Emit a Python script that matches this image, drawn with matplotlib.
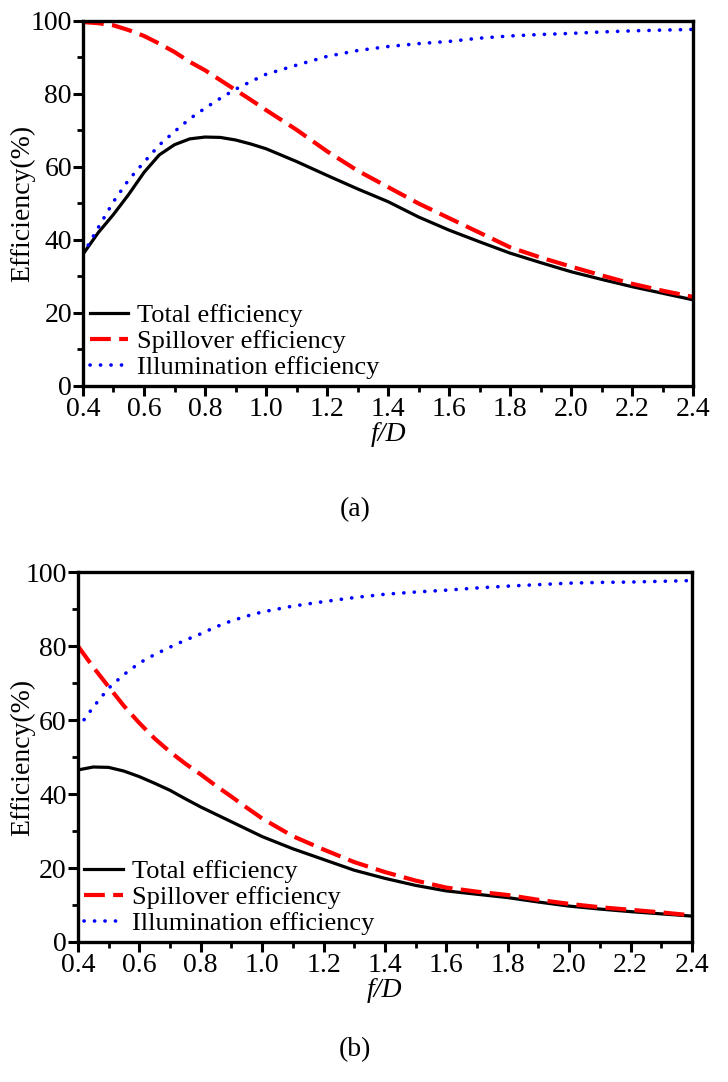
import numpy as np
import matplotlib.pyplot as plt
from matplotlib.ticker import MultipleLocator

plt.rcParams['font.family'] = ['Liberation Serif', 'DejaVu Serif']
plt.rcParams['font.size'] = 20

# f/D sample positions
fd = [0.4, 0.45, 0.5, 0.55, 0.6, 0.65, 0.7, 0.75, 0.8, 0.85, 0.9, 0.95,
      1.0, 1.1, 1.2, 1.3, 1.4, 1.5, 1.6, 1.7, 1.8, 1.9, 2.0, 2.1, 2.2,
      2.3, 2.4]

# panel (a)
total_a = [36.1, 42.0, 47.0, 52.5, 58.5, 63.3, 66.1, 67.7, 68.2, 68.1, 67.4,
           66.3, 65.0, 61.5, 57.7, 54.0, 50.5, 46.3, 42.7, 39.5, 36.4, 33.8,
           31.3, 29.2, 27.2, 25.4, 23.6]
spill_a = [99.7, 99.4, 98.8, 97.5, 95.9, 93.8, 91.5, 88.8, 86.5, 83.8, 81.1,
           78.4, 75.6, 70.2, 64.3, 59.0, 54.5, 50.0, 46.0, 42.0, 38.0, 35.2,
           32.7, 30.3, 28.0, 26.1, 24.4]
illum_a = [36.1, 43.4, 50.5, 56.5, 61.3, 66.0, 69.7, 73.2, 76.1, 78.8, 81.3,
           83.4, 85.4, 87.9, 90.3, 91.9, 93.0, 93.8, 94.4, 95.3, 95.9, 96.3,
           96.6, 97.0, 97.3, 97.5, 97.7]

# panel (b)
total_b = [46.5, 47.3, 47.2, 46.2, 44.7, 42.9, 41.0, 38.7, 36.5, 34.5, 32.5,
           30.5, 28.5, 25.2, 22.3, 19.4, 17.2, 15.3, 13.8, 12.9, 12.0, 10.8,
           9.7, 8.9, 8.2, 7.6, 7.0]
spill_b = [80.0, 74.3, 69.0, 63.8, 59.2, 55.0, 51.4, 48.2, 45.3, 42.2, 39.3,
           36.3, 33.4, 28.6, 25.0, 21.6, 18.9, 16.6, 14.7, 13.6, 12.7, 11.4,
           10.3, 9.4, 8.7, 8.0, 7.2]
illum_b = [57.8, 63.5, 68.6, 72.3, 75.4, 77.7, 79.7, 81.6, 83.3, 85.2, 86.8,
           88.1, 89.2, 90.8, 92.0, 93.1, 94.0, 94.6, 95.1, 95.7, 96.2, 96.6,
           97.0, 97.2, 97.3, 97.5, 97.7]

labels = ['Total efficiency', 'Spillover efficiency', 'Illumination efficiency']


def draw_panel(ax, total, spill, illum, ylab_x):
    ax.plot(fd, total, color='black', lw=2.3, label=labels[0])
    ax.plot(fd, spill, color='#ff0000', lw=3.0, dashes=(5, 2), label=labels[1])
    ax.plot(fd, illum, color='#0000ff', lw=2.6, dashes=(0.05, 2.85),
            dash_capstyle='round', label=labels[2])
    ax.set_xlim(0.4, 2.4)
    ax.set_ylim(0, 100)
    ax.xaxis.set_major_locator(MultipleLocator(0.2))
    ax.xaxis.set_minor_locator(MultipleLocator(0.1))
    ax.yaxis.set_major_locator(MultipleLocator(20))
    ax.yaxis.set_minor_locator(MultipleLocator(10))
    ax.set_xticklabels([f'{v:.1f}' for v in ax.get_xticks()])
    ax.tick_params(which='major', direction='out', length=7, width=2.2, pad=1)
    ax.tick_params(which='minor', direction='out', length=4, width=2.0)
    for s in ax.spines.values():
        s.set_linewidth(2.4)
    ax.set_xlabel('f/D', fontstyle='italic', labelpad=0)
    ax.set_ylabel('Efficiency(%)')
    ax.yaxis.set_label_coords(ylab_x, 0.5)
    ax.legend(loc='lower left', frameon=False, fontsize=19, handlelength=1.45,
              handletextpad=0.35, labelspacing=0.1, borderaxespad=0.1,
              borderpad=0.15)


fig = plt.figure(figsize=(7.28, 10.82), dpi=100)
ax1 = fig.add_axes([0.114, 0.6433, 0.838, 0.3373])
ax2 = fig.add_axes([0.107, 0.1294, 0.8435, 0.3419])

draw_panel(ax1, total_a, spill_a, illum_a, -0.078)
draw_panel(ax2, total_b, spill_b, illum_b, -0.070)

fig.text(0.488, 1 - 510 / 1082, '(a)', ha='center', va='center')
fig.text(0.488, 1 - 1050 / 1082, '(b)', ha='center', va='center')

fig.savefig('out.png', dpi=100)
